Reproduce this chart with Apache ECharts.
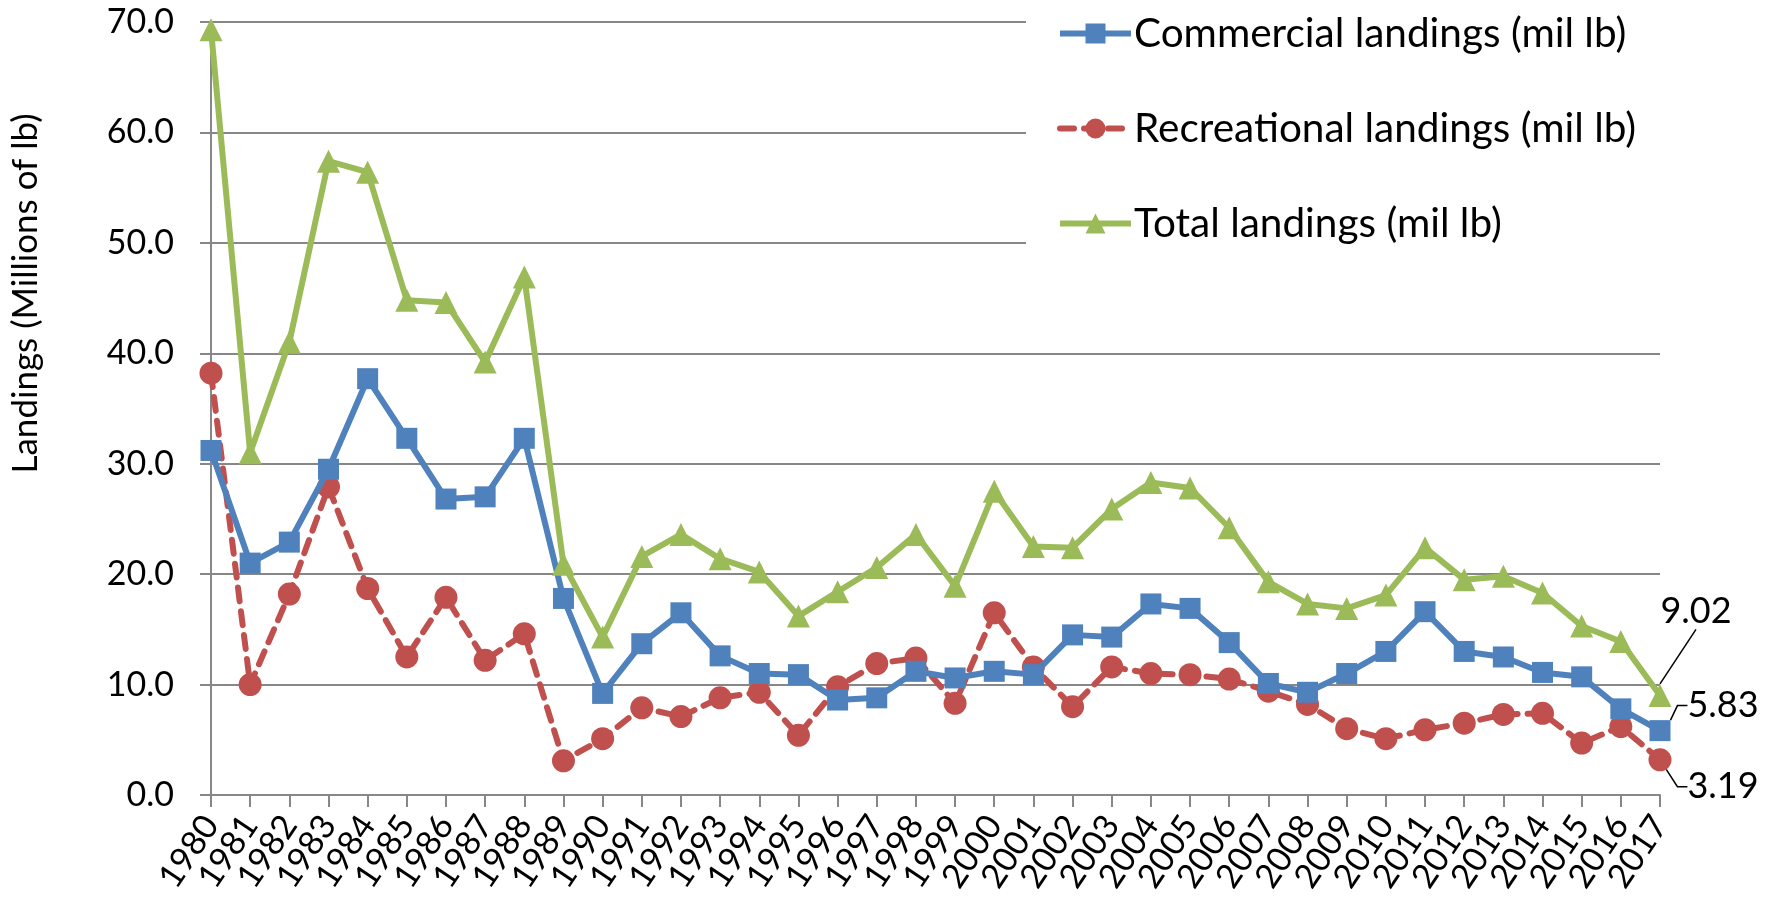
<!DOCTYPE html>
<html>
<head>
<meta charset="utf-8">
<title>Landings</title>
<script src="https://cdn.jsdelivr.net/npm/echarts@6/dist/echarts.min.js"></script>
<style>
  html, body { margin: 0; padding: 0; background: #fff; }
  #chart { width: 1777px; height: 902px; }
</style>
</head>
<body>
<div id="chart"></div>
<script>
// data (millions of lb)
var years = ['1980','1981','1982','1983','1984','1985','1986','1987','1988','1989',
             '1990','1991','1992','1993','1994','1995','1996','1997','1998','1999',
             '2000','2001','2002','2003','2004','2005','2006','2007','2008','2009',
             '2010','2011','2012','2013','2014','2015','2016','2017'];
var commercial = [31.2, 21.0, 22.9, 29.5, 37.7, 32.3, 26.8, 27.0, 32.3, 17.8,
                  9.2, 13.7, 16.5, 12.6, 11.0, 10.9, 8.6, 8.8, 11.2, 10.6,
                  11.2, 10.9, 14.5, 14.3, 17.3, 16.9, 13.8, 10.1, 9.3, 11.0,
                  13.0, 16.6, 13.0, 12.5, 11.1, 10.7, 7.8, 5.83];
var recreational = [38.2, 10.0, 18.2, 27.9, 18.7, 12.5, 17.9, 12.2, 14.6, 3.1,
                    5.1, 7.9, 7.1, 8.8, 9.3, 5.4, 9.8, 11.9, 12.4, 8.3,
                    16.5, 11.6, 8.0, 11.6, 11.0, 10.9, 10.5, 9.4, 8.2, 6.0,
                    5.1, 5.9, 6.5, 7.3, 7.4, 4.7, 6.2, 3.19];
var total = [69.3, 31.0, 41.0, 57.4, 56.4, 44.8, 44.6, 39.2, 46.9, 20.9,
             14.3, 21.6, 23.6, 21.4, 20.2, 16.2, 18.4, 20.6, 23.6, 18.9,
             27.5, 22.5, 22.4, 25.9, 28.3, 27.8, 24.2, 19.3, 17.3, 16.9,
             18.1, 22.4, 19.5, 19.8, 18.3, 15.3, 13.9, 9.02];
var seriesNames = ['Commercial landings (mil lb)', 'Recreational landings (mil lb)', 'Total landings (mil lb)'];

var font = 'Lato';
var chart = echarts.init(document.getElementById('chart'));

// only the last point carries a label, moved aside with a leader line
function lastLabeled(arr) {
  return arr.map(function (v, i) {
    if (i !== arr.length - 1) return v;
    return {
      value: v,
      label: {
        show: true,
        position: 'inside',
        formatter: function (p) { return p.value.toFixed(2); },
        fontFamily: font,
        fontSize: 36,
        color: '#000'
      }
    };
  });
}

// offsets of the end labels from their points
var labelShift = {
  0: { dx: 63, dy: -25 },
  1: { dx: 63, dy: 27 },
  2: { dx: 36, dy: -84 }
};

var option = {
  animation: false,
  grid: { left: 206, right: 117, top: 22, bottom: 107 },
  legend: {
    orient: 'vertical',
    left: 1026,
    top: 0,
    padding: [13, 60, 26, 31],
    backgroundColor: '#fff',
    itemWidth: 71,
    itemHeight: 25,
    itemGap: 54,
    data: seriesNames,
    lineStyle: { width: 6 },
    textStyle: { fontFamily: font, fontSize: 40.5, color: '#000', lineHeight: 40, padding: [0, 0, 0, -2] }
  },
  xAxis: {
    type: 'category',
    data: years,
    boundaryGap: false,
    axisLine: { lineStyle: { color: '#878787', width: 2 } },
    axisTick: { show: true, interval: 0, length: 12, lineStyle: { color: '#878787', width: 2 } },
    axisLabel: { interval: 0, rotate: 56, margin: 24, fontFamily: font, fontSize: 34, color: '#000' },
    splitLine: { show: false }
  },
  yAxis: {
    type: 'value',
    min: 0,
    max: 70,
    interval: 10,
    name: 'Landings (Millions of lb)',
    nameLocation: 'middle',
    nameGap: 168,
    nameTextStyle: { fontFamily: font, fontSize: 35, color: '#000', padding: [0, 0, 0, 230] },
    axisLine: { show: true, lineStyle: { color: '#878787', width: 2 } },
    axisTick: { show: true, length: 11, lineStyle: { color: '#878787', width: 2 } },
    axisLabel: {
      margin: 37, fontFamily: font, fontSize: 34, color: '#000',
      formatter: function (v) { return v.toFixed(1); }
    },
    splitLine: { lineStyle: { color: '#878787', width: 2 } }
  },
  series: [
    {
      name: seriesNames[0],
      type: 'line',
      data: lastLabeled(commercial),
      symbol: 'rect',
      symbolSize: 21,
      color: '#4F81BD',
      lineStyle: { width: 6, color: '#4F81BD' },
      itemStyle: { color: '#4F81BD' },
      labelLine: { show: true, length2: 10, lineStyle: { color: '#000', width: 1.5 } },
      z: 3
    },
    {
      name: seriesNames[1],
      type: 'line',
      data: lastLabeled(recreational),
      symbol: 'circle',
      symbolSize: 23,
      color: '#C0504D',
      lineStyle: { width: 6, color: '#C0504D', type: [14, 10], cap: 'round' },
      itemStyle: { color: '#C0504D' },
      labelLine: { show: true, length2: 10, lineStyle: { color: '#000', width: 1.5 } },
      z: 2
    },
    {
      name: seriesNames[2],
      type: 'line',
      data: lastLabeled(total),
      symbol: 'triangle',
      symbolSize: 23,
      color: '#9BBB59',
      lineStyle: { width: 6, color: '#9BBB59' },
      itemStyle: { color: '#9BBB59' },
      labelLine: { show: true, length2: 0, lineStyle: { color: '#000', width: 1.5 } },
      z: 4
    }
  ],
  labelLayout: function (p) {
    var s = labelShift[p.seriesIndex];
    return { dx: s.dx, dy: s.dy };
  }
};

chart.setOption(option);
</script>
</body>
</html>
